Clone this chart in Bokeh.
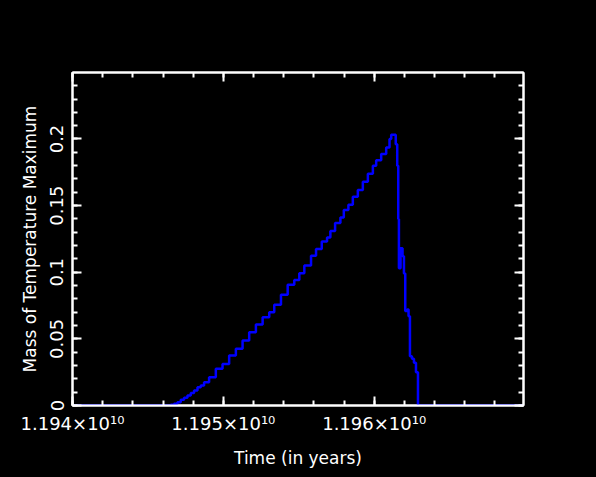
from bokeh.plotting import figure
from bokeh.models import (Range1d, LinearAxis, SingleIntervalTicker,
                          CustomJSTickFormatter)
from bokeh.embed import file_html
from bokeh.resources import INLINE

# Time (years) at which each step starts, and the value held until the next step
time_years = [
    1.1940000e10, 1.1946512e10, 1.1946731e10, 1.1946957e10, 1.1947176e10,
    1.1947395e10, 1.1947621e10, 1.1947841e10, 1.1948060e10, 1.1948286e10,
    1.1948505e10, 1.1948724e10, 1.1949056e10, 1.1949502e10, 1.1949947e10,
    1.1950385e10, 1.1950831e10, 1.1951276e10, 1.1951714e10, 1.1952159e10,
    1.1952605e10, 1.1953043e10, 1.1953375e10, 1.1953821e10, 1.1954266e10,
    1.1954704e10, 1.1955036e10, 1.1955369e10, 1.1955814e10, 1.1956146e10,
    1.1956525e10, 1.1956877e10, 1.1957096e10, 1.1957409e10, 1.1957761e10,
    1.1957987e10, 1.1958292e10, 1.1958585e10, 1.1958917e10, 1.1959249e10,
    1.1959582e10, 1.1959914e10, 1.1960133e10, 1.1960465e10, 1.1960797e10,
    1.1961017e10, 1.1961130e10, 1.1961429e10, 1.1961528e10, 1.1961595e10,
    1.1961641e10, 1.1961748e10, 1.1961881e10, 1.1961974e10, 1.1962060e10,
    1.1962193e10, 1.1962279e10, 1.1962372e10, 1.1962505e10, 1.1962638e10,
    1.1962771e10, 1.1962904e10, 1.1970000e10,
]
mass_tmax = [
    0.0, 0.0006, 0.0013, 0.0025, 0.0043,
    0.0058, 0.0075, 0.0093, 0.0112, 0.0137,
    0.0150, 0.0175, 0.0212, 0.0275, 0.0312,
    0.0375, 0.0425, 0.0487, 0.0550, 0.0607,
    0.0662, 0.0700, 0.0757, 0.0832, 0.0907,
    0.0942, 0.0992, 0.1050, 0.1124, 0.1175,
    0.1230, 0.1260, 0.1310, 0.1370, 0.1410,
    0.1467, 0.1507, 0.1567, 0.1617, 0.1680,
    0.1740, 0.1800, 0.1840, 0.1887, 0.1937,
    0.2000, 0.2031, 0.1960, 0.1800, 0.1400,
    0.1030, 0.1180, 0.1120, 0.0990, 0.0710,
    0.0720, 0.0670, 0.0370, 0.0350, 0.0320,
    0.0250, 0.0, 0.0,
]

x_label = "Time (in years)"
y_label = "Mass of Temperature Maximum"

FONT = "DejaVu Sans"
TICK_FS = "18px"
LABEL_FS = "17px"

p = figure(width=596, height=477, output_backend="svg", toolbar_location=None,
           x_range=Range1d(1.194e10, 1.19699e10), y_range=Range1d(0, 0.2499),
           x_axis_type=None, y_axis_type=None,
           min_border_left=72, min_border_right=73,
           min_border_top=72, min_border_bottom=72)
p.background_fill_color = "black"
p.border_fill_color = "black"
p.outline_line_color = "white"
p.outline_line_width = 2
p.xgrid.visible = False
p.ygrid.visible = False

xfmt = CustomJSTickFormatter(code="return (tick/1e10).toFixed(3) + '\u00d710\u00b9\u2070';")
yfmt = CustomJSTickFormatter(code="return String(parseFloat(tick.toFixed(2)));")
nofmt = CustomJSTickFormatter(code="return '';")


def style(ax, labels):
    ax.axis_line_color = "white"
    ax.axis_line_width = 2
    ax.major_tick_line_color = "white"
    ax.minor_tick_line_color = "white"
    ax.major_tick_line_width = 2
    ax.minor_tick_line_width = 2
    ax.major_tick_in = 9
    ax.major_tick_out = 0
    ax.minor_tick_in = 5
    ax.minor_tick_out = 0
    ax.major_label_text_color = "white"
    ax.major_label_text_font = FONT
    ax.major_label_text_font_size = TICK_FS
    ax.axis_label_text_color = "white"
    ax.axis_label_text_font = FONT
    ax.axis_label_text_font_size = LABEL_FS
    ax.axis_label_text_font_style = "normal"
    if not labels:
        ax.formatter = nofmt
        ax.major_label_standoff = 0


xb = LinearAxis(ticker=SingleIntervalTicker(interval=1e7, num_minor_ticks=5),
                formatter=xfmt, axis_label=x_label)
style(xb, True)
xb.major_label_standoff = 7
xb.axis_label_standoff = 11
p.add_layout(xb, "below")

xt = LinearAxis(ticker=SingleIntervalTicker(interval=1e7, num_minor_ticks=5))
style(xt, False)
p.add_layout(xt, "above")

yl = LinearAxis(ticker=SingleIntervalTicker(interval=0.05, num_minor_ticks=5),
                formatter=yfmt, axis_label=y_label)
style(yl, True)
yl.major_label_orientation = "vertical"
yl.major_label_standoff = 9
yl.axis_label_standoff = 8
p.add_layout(yl, "left")

yr = LinearAxis(ticker=SingleIntervalTicker(interval=0.05, num_minor_ticks=5))
style(yr, False)
p.add_layout(yr, "right")

p.step(time_years, mass_tmax, mode="after", line_color="#0000ff", line_width=2.5)

html = file_html(p, INLINE)
html = html.replace("<head>", "<head><style>html,body{background:#000;margin:0;}</style>", 1)
open("out.html", "w").write(html)
